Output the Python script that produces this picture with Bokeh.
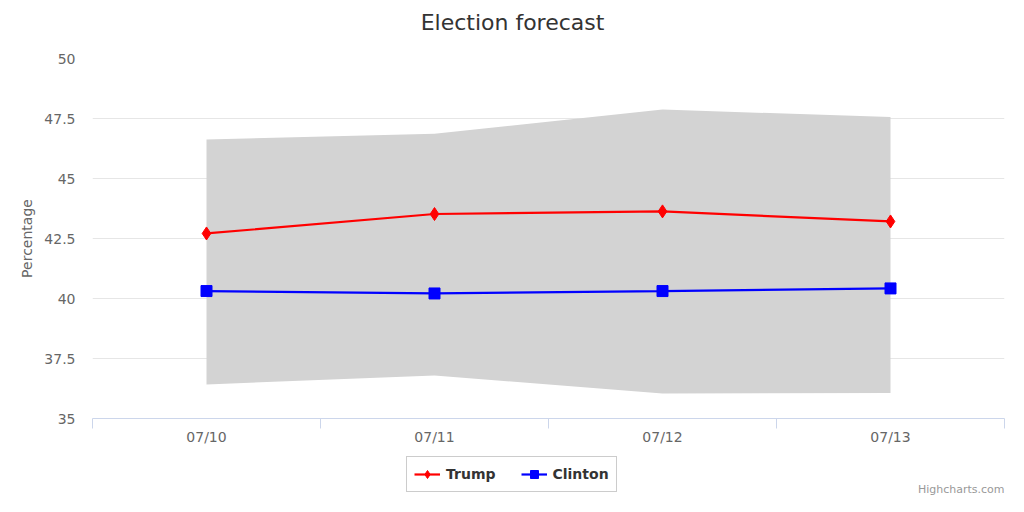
from bokeh.plotting import figure
from bokeh.layouts import column
from bokeh.models import (FixedTicker, Legend, LegendItem, Label, Range1d)
from bokeh.embed import file_html
from bokeh.resources import INLINE

# ---- data ----
categories = ["07/10", "07/11", "07/12", "07/13"]
trump = [42.71, 43.52, 43.63, 43.21]
clinton = [40.31, 40.21, 40.31, 40.42]
band_low = [36.42, 36.79, 36.04, 36.06]
band_high = [46.63, 46.86, 47.87, 47.56]
ytick_vals = [35, 37.5, 40, 42.5, 45, 47.5, 50]
ytick_labels = ["35", "37.5", "40", "42.5", "45", "47.5", "50"]
series_names = ["Trump", "Clinton"]

FONT = "DejaVu Sans"
RED = "#ff0000"
BLUE = "#0000ff"
n = len(categories)
xc = [i + 0.5 for i in range(n)]          # category centres
xb = [i for i in range(n + 1)]            # category boundaries

W = 1008
BL, BR = 92, 4   # left / right borders shared by all stacked figures


def strip(h):
    # a strip whose data coordinates equal page pixels (x) / pixels from bottom (y)
    f = figure(width=W, height=h, output_backend="svg", toolbar_location=None,
               x_range=Range1d(BL, W - BR), y_range=Range1d(0, h),
               x_axis_type=None, y_axis_type=None, min_border=0,
               min_border_left=BL, min_border_right=BR,
               outline_line_color=None)
    f.xgrid.visible = False
    f.ygrid.visible = False
    return f


# ---- title strip ----
H0 = 42
p0 = strip(H0)
p0.add_layout(Label(x=512, y=H0 - 22, text="Election forecast", text_align="center",
                    text_baseline="middle", text_font=FONT, text_font_size="22px",
                    text_color="#333333"))

# ---- main chart ----
p = figure(width=W, height=412, output_backend="svg", toolbar_location=None,
           x_range=Range1d(0, n), y_range=Range1d(35, 50),
           min_border_left=BL, min_border_right=BR, min_border_top=16,
           min_border_bottom=36, outline_line_color=None)

p.varea(x=xc, y1=band_low, y2=band_high, fill_color="#d3d3d3", fill_alpha=1.0)

p.line(xc, trump, line_color=RED, line_width=2.2)
p.scatter(xc, trump, marker="diamond", size=13, fill_color=RED, line_color=RED)
p.line(xc, clinton, line_color=BLUE, line_width=2.2)
p.scatter(xc, clinton, marker="square", size=11, fill_color=BLUE, line_color=BLUE)

xax = p.xaxis[0]
xax.ticker = FixedTicker(ticks=xc, minor_ticks=xb)
xax.major_label_overrides = {x: c for x, c in zip(xc, categories)}
xax.axis_line_color = "#ccd6eb"
xax.major_tick_line_color = None
xax.major_tick_out = 0
xax.major_tick_in = 0
xax.minor_tick_line_color = "#ccd6eb"
xax.minor_tick_out = 10
xax.minor_tick_in = 0
xax.major_label_standoff = 0
xax.major_label_text_font = FONT
xax.major_label_text_font_size = "14px"
xax.major_label_text_color = "#666666"

yax = p.yaxis[0]
yax.ticker = FixedTicker(ticks=ytick_vals)
yax.major_label_overrides = {v: l for v, l in zip(ytick_vals, ytick_labels)}
yax.axis_line_color = None
yax.major_tick_line_color = None
yax.minor_tick_line_color = None
yax.major_tick_out = 0
yax.major_label_standoff = 17
yax.major_label_text_font = FONT
yax.major_label_text_font_size = "14px"
yax.major_label_text_color = "#666666"
yax.axis_label = "Percentage"
yax.axis_label_text_font = FONT
yax.axis_label_text_font_size = "14px"
yax.axis_label_text_font_style = "normal"
yax.axis_label_text_color = "#666666"
yax.axis_label_standoff = 6

p.xgrid.grid_line_color = None
p.ygrid.grid_line_color = "#e6e6e6"
p.ygrid.grid_line_width = 1

# ---- legend / credits strip ----
H2 = 42
p2 = strip(H2)
# off-screen proxies so the legend has glyphs to draw
px, py = [-50, -40], [-50, -50]
lt = p2.line(px, py, line_color=RED, line_width=2.2)
st = p2.scatter(px, py, marker="diamond", size=13, fill_color=RED, line_color=RED)
lc = p2.line(px, py, line_color=BLUE, line_width=2.2)
sc = p2.scatter(px, py, marker="square", size=11, fill_color=BLUE, line_color=BLUE)

legend = Legend(items=[LegendItem(label=series_names[0], renderers=[lt, st]),
                       LegendItem(label=series_names[1], renderers=[lc, sc])],
                orientation="horizontal", location=(406 - BL, 4),
                label_text_font=FONT, label_text_font_size="14px",
                label_text_font_style="bold", label_text_color="#333333",
                border_line_color="#999999", border_line_width=1,
                background_fill_color="white", background_fill_alpha=1.0,
                glyph_width=26, glyph_height=20, label_height=20,
                label_standoff=6, spacing=25, padding=7, margin=0)
p2.add_layout(legend)

p2.add_layout(Label(x=W - BR, y=7, text="Highcharts.com", text_align="right",
                    text_baseline="alphabetic", text_font=FONT,
                    text_font_size="11px", text_color="#999999"))

layout = column(p0, p, p2, spacing=0)
open("out.html", "w").write(file_html(layout, INLINE))
